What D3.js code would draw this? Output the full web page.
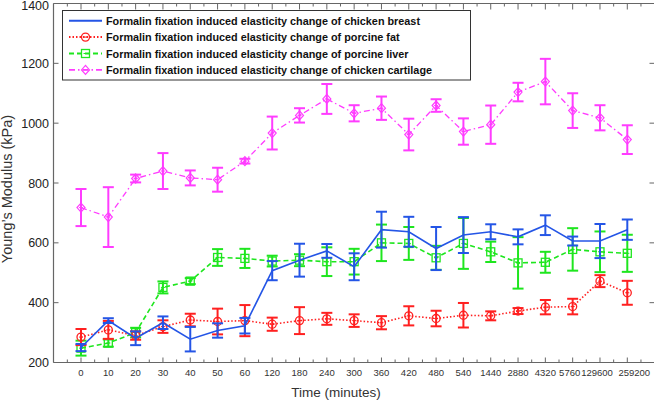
<!DOCTYPE html>
<html><head><meta charset="utf-8">
<script src="https://cdn.jsdelivr.net/npm/d3@7/dist/d3.min.js"></script>
<style>body{margin:0;background:#fff}svg{display:block}</style>
</head><body>
<svg id="c" width="654" height="400"></svg>
<script>
const categories = ["0","10","20","30","40","50","60","120","180","240","300","360","420","480","540","1440","2880","4320","5760","129600","259200"];
const yTicks = [200,400,600,800,1000,1200,1400];

const breastMean = [250,340,281,333,278,307,323,507,542,573,520,644,637,581,626,637,620,659,606,606,644];
const breastErr  = [12,8,23,21,41,24,26,32,55,23,45,60,50,72,60,25,25,33,15,57,34];
const fatMean = [285,309,290,320,342,337,340,328,340,346,340,333,356,347,358,356,372,385,387,472,433];
const fatErr  = [27,30,14,21,21,43,52,22,45,20,21,22,32,26,41,15,10,24,26,20,40];
const liverMean = [248,265,300,451,472,551,548,539,542,537,537,600,598,550,598,570,533,535,578,570,565];
const liverErr  = [25,12,16,20,10,28,32,18,20,48,43,61,55,40,85,34,86,35,71,68,62];
const cartMean = [718,686,815,840,817,811,873,967,1026,1081,1033,1050,962,1059,972,995,1104,1139,1042,1018,945];
const cartErr  = [62,100,13,60,25,40,8,55,24,50,27,39,53,21,44,64,31,76,58,42,48];

const legendLabels = [
  "Formalin fixation induced elasticity change of chicken breast",
  "Formalin fixation induced elasticity change of porcine fat",
  "Formalin fixation induced elasticity change of porcine liver",
  "Formalin fixation induced elasticity change of chicken cartilage"
];

(function(){
const series = [
  {mean:cartMean, err:cartErr, color:"#ff3cff", dash:"6,3,1.5,3", width:1.3, marker:"diamond", leg:3},
  {mean:liverMean, err:liverErr, color:"#1ee61e", dash:"5,3", width:1.6, marker:"square", leg:2},
  {mean:fatMean, err:fatErr, color:"#ff2020", dash:"1.5,2", width:1.6, marker:"circle", leg:1},
  {mean:breastMean, err:breastErr, color:"#2455e6", dash:null, width:1.6, marker:null, leg:0}
];

const svg = d3.select("#c");
const pL = 53.5, pR = 654.5, pT = 3.5, pB = 362.5;
const x = d3.scalePoint().domain(categories).range([81, 627.3]);
const y = d3.scaleLinear().domain([200,1400]).range([pB, pT]);
const step = x.step();

const axisCol = "#666";
svg.append("line").attr("x1",pL).attr("x2",pL).attr("y1",pT).attr("y2",pB).attr("stroke",axisCol).attr("stroke-width",1.2);
svg.append("line").attr("x1",pL).attr("x2",pR).attr("y1",pB).attr("y2",pB).attr("stroke",axisCol).attr("stroke-width",1.2);
svg.append("line").attr("x1",pL).attr("x2",pR).attr("y1",pT).attr("y2",pT).attr("stroke",axisCol).attr("stroke-width",1.2);

const tg = svg.append("g").attr("stroke",axisCol).attr("stroke-width",1);
categories.forEach((c)=>{
  const px = x(c);
  tg.append("line").attr("x1",px).attr("x2",px).attr("y1",pB).attr("y2",pB-5);
  tg.append("line").attr("x1",px).attr("x2",px).attr("y1",pT).attr("y2",pT+6);
});
for (let i=-1;i<categories.length;i++){
  const px = x(categories[0]) + (i+0.5)*step;
  if (px<=pL+1 || px>=pR) continue;
  tg.append("line").attr("x1",px).attr("x2",px).attr("y1",pB).attr("y2",pB-3);
  tg.append("line").attr("x1",px).attr("x2",px).attr("y1",pT).attr("y2",pT+3);
}
yTicks.forEach(v=>{
  tg.append("line").attr("x1",pL).attr("x2",pL+5).attr("y1",y(v)).attr("y2",y(v));
  tg.append("line").attr("x1",pR-5).attr("x2",pR).attr("y1",y(v)).attr("y2",y(v));
});

// x labels; the last three labels are nudged apart as in the original so the long ones don't collide
const n = categories.length;
const nudge = (i)=> i===n-1 ? 7 : (i===n-2 || i===n-3) ? -3 : 0;
svg.append("g").selectAll("text").data(categories).join("text")
  .attr("x",(d,i)=>x(d)+nudge(i)).attr("y",376).attr("text-anchor","middle")
  .attr("font-family","Liberation Sans, Arial, sans-serif").attr("font-size",9.5).attr("fill","#333")
  .text(d=>d);
svg.append("g").selectAll("text").data(yTicks).join("text")
  .attr("x",49).attr("y",d=>Math.max(y(d)+4.6, 9.6)).attr("text-anchor","end")
  .attr("font-family","Liberation Sans, Arial, sans-serif").attr("font-size",12.5).attr("fill","#222")
  .text(d=>d);
svg.append("text").attr("x",336).attr("y",397).attr("text-anchor","middle")
  .attr("font-family","Liberation Sans, Arial, sans-serif").attr("font-size",13.5).attr("fill","#333")
  .text("Time (minutes)");
svg.append("text").attr("transform","translate(12,189) rotate(-90)").attr("text-anchor","middle")
  .attr("font-family","Liberation Sans, Arial, sans-serif").attr("font-size",14.5).attr("fill","#333")
  .text("Young\u2019s Modulus (kPa)");

function drawMarker(g, type, cx, cy, color){
  if (type==="circle"){
    g.append("circle").attr("cx",cx).attr("cy",cy).attr("r",4).attr("fill","none").attr("stroke",color).attr("stroke-width",1.3);
    g.append("line").attr("x1",cx-2).attr("x2",cx+2).attr("y1",cy).attr("y2",cy).attr("stroke",color).attr("stroke-width",1);
  } else if (type==="square"){
    g.append("rect").attr("x",cx-4).attr("y",cy-4).attr("width",8).attr("height",8).attr("fill","none").attr("stroke",color).attr("stroke-width",1.3);
    g.append("line").attr("x1",cx-2).attr("x2",cx+2).attr("y1",cy).attr("y2",cy).attr("stroke",color).attr("stroke-width",1);
  } else if (type==="diamond"){
    g.append("path").attr("d",`M${cx},${cy-4.5}L${cx+4},${cy}L${cx},${cy+4.5}L${cx-4},${cy}Z`).attr("fill","none").attr("stroke",color).attr("stroke-width",1.2);
    g.append("line").attr("x1",cx-2).attr("x2",cx+2).attr("y1",cy).attr("y2",cy).attr("stroke",color).attr("stroke-width",1);
  }
}

const line = d3.line().x((d,i)=>x(categories[i])).y(d=>y(d));
series.forEach(s=>{
  const g = svg.append("g");
  const p = g.append("path").attr("d",line(s.mean)).attr("fill","none").attr("stroke",s.color).attr("stroke-width",s.width);
  if (s.dash) p.attr("stroke-dasharray",s.dash);
  s.mean.forEach((m,i)=>{
    const px = x(categories[i]);
    const e = s.err[i];
    g.append("line").attr("x1",px).attr("x2",px).attr("y1",y(m+e)).attr("y2",y(m-e)).attr("stroke",s.color).attr("stroke-width",2);
    [m+e,m-e].forEach(v=>g.append("line").attr("x1",px-5.5).attr("x2",px+5.5).attr("y1",y(v)).attr("y2",y(v)).attr("stroke",s.color).attr("stroke-width",2));
    if (s.marker) drawMarker(g, s.marker, px, y(m), s.color);
  });
});

const lg = svg.append("g");
lg.append("rect").attr("x",62.5).attr("y",10.5).attr("width",408).attr("height",69.5).attr("fill","#fff").attr("stroke","#333").attr("stroke-width",1);
const rowY = [20.7,37.1,53.5,69.9];
const legSeries = series.slice().sort((a,b)=>a.leg-b.leg);
const texts = [];
legSeries.forEach((s,i)=>{
  const ly = rowY[i];
  const l = lg.append("line").attr("x1",69).attr("x2",102).attr("y1",ly).attr("y2",ly).attr("stroke",s.color).attr("stroke-width",s.width+0.4);
  if (s.dash) l.attr("stroke-dasharray",s.dash);
  if (s.marker) drawMarker(lg, s.marker, 85.5, ly, s.color);
  const t = lg.append("text").attr("x",106).attr("y",ly+4).attr("font-family","Liberation Sans, Arial, sans-serif")
    .attr("font-weight","bold").attr("font-size",11.5).attr("fill","#111").text(legendLabels[s.leg]);
  texts.push(t);
});
const w0 = texts[0].node().getComputedTextLength();
const ratio = 314 / w0;
texts.forEach(t=>{
  const w = t.node().getComputedTextLength();
  t.attr("textLength", w*ratio).attr("lengthAdjust","spacingAndGlyphs");
});
})();
</script>
</body></html>
